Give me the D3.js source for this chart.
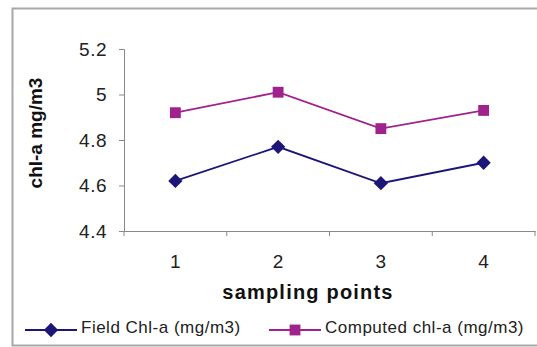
<!DOCTYPE html>
<html>
<head>
<meta charset="utf-8">
<script src="https://cdn.jsdelivr.net/npm/d3@7"></script>
<style>
  body { margin: 0; background: #fff; }
  svg { display: block; font-family: Arial, "Liberation Sans", sans-serif; }
</style>
</head>
<body>
<figure id="chart" style="margin:0"></figure>
<script>
const categories = ["1", "2", "3", "4"];
const fieldValues = [4.62, 4.77, 4.61, 4.70];
const computedValues = [4.92, 5.01, 4.85, 4.93];
const yTicks = [4.4, 4.6, 4.8, 5, 5.2];
const seriesNames = ["Field Chl-a (mg/m3)", "Computed chl-a (mg/m3)"];

const W = 537, H = 347;
const plot = { left: 124, right: 535, top: 49, bottom: 231 };

const svg = d3.select("figure#chart")
  .append("svg")
  .attr("width", W)
  .attr("height", H);

// outer chart frame (right side is cut off in the picture)
svg.append("path")
  .attr("d", `M${W + 2},8.5 H12.5 V345.5 H${W + 2}`)
  .attr("fill", "none")
  .attr("stroke", "#a8a8a8")
  .attr("stroke-width", 2);

const x = d3.scaleBand()
  .domain(categories)
  .range([plot.left, plot.right]);

const y = d3.scaleLinear()
  .domain([4.4, 5.2])
  .range([plot.bottom, plot.top]);

// y axis
const yAxis = svg.append("g")
  .attr("transform", `translate(${plot.left},0)`)
  .call(d3.axisLeft(y).tickValues(yTicks).tickSize(5).tickPadding(12).tickFormat(d3.format("")));
yAxis.selectAll("text").attr("font-size", 19).attr("letter-spacing", 0.5).attr("fill", "#222");

// x axis with ticks at category boundaries
const xAxis = svg.append("g")
  .attr("transform", `translate(0,${plot.bottom})`)
  .call(d3.axisBottom(x).tickSize(0).tickPadding(24));
xAxis.selectAll("text").attr("font-size", 19).attr("fill", "#222");
xAxis.selectAll(".bound")
  .data(categories.map(c => x(c)).concat([plot.right]))
  .enter().append("line")
  .attr("x1", d => d).attr("x2", d => d)
  .attr("y1", 0).attr("y2", 5)
  .attr("stroke", "#888");

svg.selectAll(".domain").attr("stroke", "#888");
svg.selectAll(".tick line").attr("stroke", "#888");

// axis titles
svg.append("text")
  .attr("transform", `translate(42,133) rotate(-90)`)
  .attr("text-anchor", "middle")
  .attr("font-size", 19)
  .attr("font-weight", "bold")
  .attr("fill", "#111")
  .text("chl-a mg/m3");

svg.append("text")
  .attr("x", 308)
  .attr("y", 299)
  .attr("text-anchor", "middle")
  .attr("font-size", 20)
  .attr("letter-spacing", 1.2)
  .attr("font-weight", "bold")
  .attr("fill", "#111")
  .text("sampling points");

const cx = c => x(c) + x.bandwidth() / 2;

const series = [
  { name: seriesNames[0], values: fieldValues, color: "#1c1678", shape: d3.symbolDiamond2, size: 130 },
  { name: seriesNames[1], values: computedValues, color: "#a0228c", shape: d3.symbolSquare2, size: 150 }
];

const line = d3.line()
  .x((d, i) => cx(categories[i]))
  .y(d => y(d));

series.forEach(s => {
  svg.append("path")
    .datum(s.values)
    .attr("fill", "none")
    .attr("stroke", s.color)
    .attr("stroke-width", 1.8)
    .attr("d", line);

  svg.selectAll(null)
    .data(s.values)
    .enter().append("path")
    .attr("transform", (d, i) => `translate(${cx(categories[i])},${y(d)})`)
    .attr("d", d3.symbol().type(s.shape).size(s.size))
    .attr("fill", s.color);
});

// legend
const legendX = [25, 269];
series.forEach((s, i) => {
  const g = svg.append("g").attr("transform", `translate(${legendX[i]},330)`);
  g.append("line")
    .attr("x1", 0).attr("x2", 52)
    .attr("stroke", s.color).attr("stroke-width", 1.8);
  g.append("path")
    .attr("transform", "translate(26,0)")
    .attr("d", d3.symbol().type(s.shape).size(s.size))
    .attr("fill", s.color);
  g.append("text")
    .attr("x", 56)
    .attr("y", 3)
    .attr("font-size", 17)
    .attr("letter-spacing", 0.5)
    .attr("fill", "#222")
    .text(s.name);
});
</script>
</body>
</html>
